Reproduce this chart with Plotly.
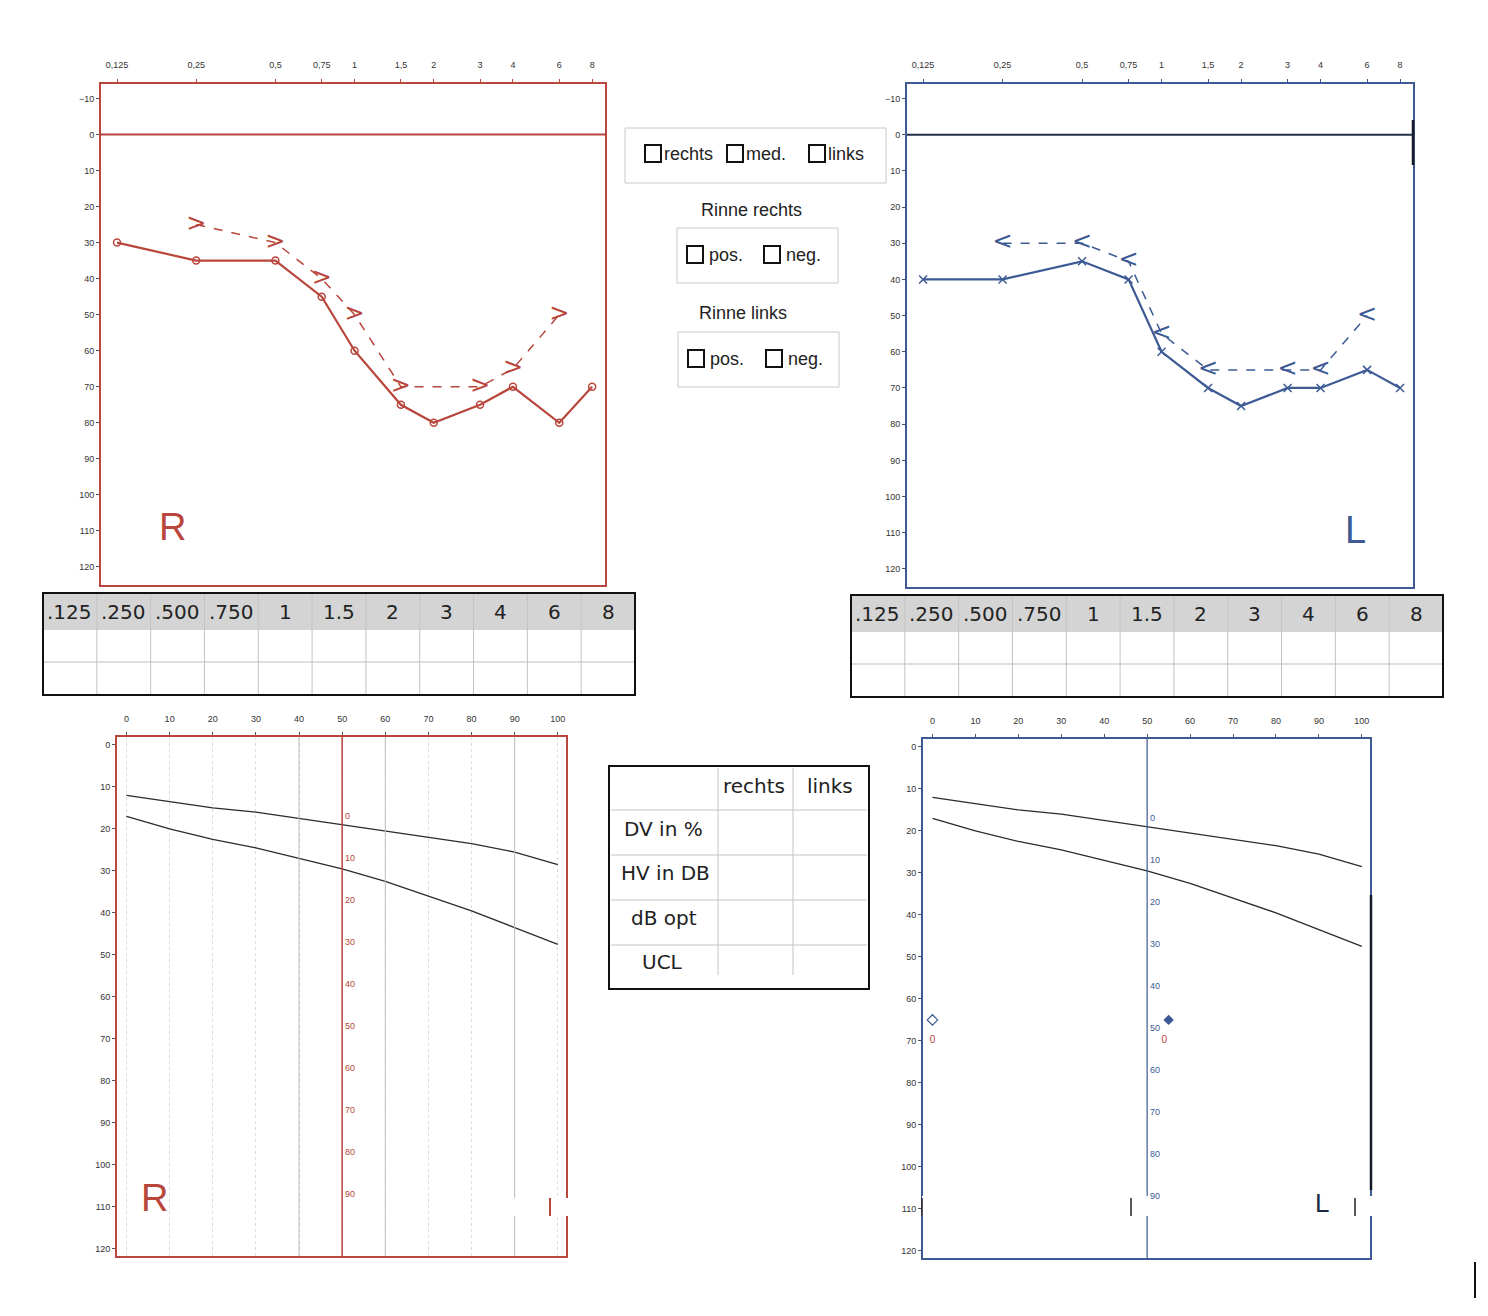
import plotly.graph_objects as go

W, H = 1488, 1316
OFF = 8  # body margin of the page
RED = '#b8463c'
BLUE = '#3d5a94'
GREY_TXT = '#333333'

# --- Tonaudiogramm data (kHz / dB HL) ---
freqs = [0.125, 0.25, 0.5, 0.75, 1, 1.5, 2, 3, 4, 6, 8]
freq_ticktext = ['0,125', '0,25', '0,5', '0,75', '1', '1,5', '2', '3', '4', '6', '8']
db_ticks = [-10, 0, 10, 20, 30, 40, 50, 60, 70, 80, 90, 100, 110, 120]

r_air = [30, 35, 35, 45, 60, 75, 80, 75, 70, 80, 70]
r_bone_f = [0.25, 0.5, 0.75, 1, 1.5, 3, 4, 6]
r_bone = [25, 30, 40, 50, 70, 70, 65, 50]

l_air = [40, 40, 35, 40, 60, 70, 75, 70, 70, 65, 70]
l_bone_f = [0.25, 0.5, 0.75, 1, 1.5, 3, 4, 6]
l_bone = [30, 30, 35, 55, 65, 65, 65, 50]

table_freqs = ['.125', '.250', '.500', '.750', '1', '1.5', '2', '3', '4', '6', '8']

# --- Sprachaudiogramm data (% / dB) ---
pct = [0, 10, 20, 30, 40, 50, 60, 70, 80, 90, 100]
speech_ticks = [0, 10, 20, 30, 40, 50, 60, 70, 80, 90, 100, 110, 120]
norm_upper = [12, 13.5, 15, 16, 17.5, 19, 20.5, 22, 23.5, 25.5, 28.5]
norm_lower = [17, 20, 22.5, 24.5, 27, 29.5, 32.5, 36, 39.5, 43.5, 47.5]
sec_labels = ['0', '10', '20', '30', '40', '50', '60', '70', '80', '90']
sec_y = [17, 27, 37, 47, 57, 67, 77, 87, 97, 107]

l_speech_open = (0, 65)
l_speech_filled = (55, 65)
l_speech_zero = [(0, 70), (54, 70)]

check_row1 = ['rechts', 'med.', 'links']
check_row2 = ['pos.', 'neg.']
speech_rows = ['DV in %', 'HV in DB', 'dB opt', 'UCL']
speech_cols = ['rechts', 'links']


def px(x):
    return (x - OFF) / W


def py(y):
    return 1 - (y - OFF) / H


def note(x, y, text, font, xanchor='center', **kw):
    return dict(xref='paper', yref='paper', x=px(x), y=py(y), text=text, showarrow=False,
                xanchor=xanchor, yanchor='middle', font=font, **kw)


fig = go.Figure()

# tone audiogram traces
fig.add_trace(go.Scatter(x=freqs, y=r_air, mode='lines+markers', xaxis='x', yaxis='y',
                         line=dict(color=RED, width=2.2),
                         marker=dict(symbol='circle-open', size=7, color=RED, line=dict(width=1.5))))
fig.add_trace(go.Scatter(x=r_bone_f, y=r_bone, mode='lines+text', xaxis='x', yaxis='y',
                         text=['>'] * len(r_bone), textposition='middle center',
                         textfont=dict(size=24, color=RED, family='DejaVu Sans'),
                         line=dict(color=RED, width=1.5, dash='dash')))
fig.add_trace(go.Scatter(x=freqs, y=l_air, mode='lines+markers', xaxis='x2', yaxis='y2',
                         line=dict(color=BLUE, width=2.2),
                         marker=dict(symbol='x-thin-open', size=8, color=BLUE, line=dict(width=1.5, color=BLUE))))
fig.add_trace(go.Scatter(x=l_bone_f, y=l_bone, mode='lines+text', xaxis='x2', yaxis='y2',
                         text=['<'] * len(l_bone), textposition='middle center',
                         textfont=dict(size=24, color=BLUE, family='DejaVu Sans'),
                         line=dict(color=BLUE, width=1.5, dash='dash')))

# speech audiogram traces
for xa, ya in [('x3', 'y3'), ('x4', 'y4')]:
    fig.add_trace(go.Scatter(x=pct, y=norm_upper, mode='lines', xaxis=xa, yaxis=ya,
                             line=dict(color='#2b2b2b', width=1.3)))
    fig.add_trace(go.Scatter(x=pct, y=norm_lower, mode='lines', xaxis=xa, yaxis=ya,
                             line=dict(color='#2b2b2b', width=1.3)))
fig.add_trace(go.Scatter(x=[l_speech_open[0]], y=[l_speech_open[1]], mode='markers', xaxis='x4', yaxis='y4',
                         marker=dict(symbol='diamond-open', size=8, color=BLUE, line=dict(width=1.2))))
fig.add_trace(go.Scatter(x=[l_speech_filled[0]], y=[l_speech_filled[1]], mode='markers', xaxis='x4', yaxis='y4',
                         marker=dict(symbol='diamond', size=8, color=BLUE)))
fig.add_trace(go.Scatter(x=[p[0] for p in l_speech_zero], y=[p[1] for p in l_speech_zero], mode='text',
                         xaxis='x4', yaxis='y4', text=['0', '0'],
                         textfont=dict(size=10, color=RED, family='Liberation Sans Narrow, Liberation Sans')))

tick_font = dict(size=9, color=GREY_TXT, family='Liberation Sans Narrow, Liberation Sans')


def tone_axes(color, dom_x, dom_y, anchor_x, anchor_y):
    xa = dict(type='log', domain=dom_x, anchor=anchor_y, side='top', range=[-0.964, 0.952],
              tickvals=freqs, ticktext=freq_ticktext, tickfont=tick_font, ticks='outside', ticklen=3,
              tickcolor=color, ticklabelstandoff=7, showgrid=False, zeroline=False, showline=True,
              linecolor=color, linewidth=2, mirror=True)
    ya = dict(domain=dom_y, anchor=anchor_x, range=[125, -14], tickvals=db_ticks, tickfont=tick_font,
              ticks='outside', ticklen=3, tickcolor='#555', showgrid=False, zeroline=False,
              showline=True, linecolor=color, linewidth=2, mirror=True)
    return xa, ya


def speech_axes(color, dom_x, dom_y, anchor_x, anchor_y, grid):
    xa = dict(domain=dom_x, anchor=anchor_y, side='top', range=[-2.2, 101.9], tickvals=pct,
              tickfont=tick_font, ticks='outside', ticklen=3, tickcolor='#555', ticklabelstandoff=6,
              showgrid=grid, gridcolor='#dcdcdc', griddash='dot', gridwidth=1,
              zeroline=False, showline=True, linecolor=color, linewidth=2, mirror=True)
    ya = dict(domain=dom_y, anchor=anchor_x, range=[121.7, -1.9], tickvals=speech_ticks,
              tickfont=tick_font, ticks='outside', ticklen=3, tickcolor='#555', showgrid=False,
              zeroline=False, showline=True, linecolor=color, linewidth=2, mirror=True)
    return xa, ya


x1, y1 = tone_axes(RED, [px(101), px(605)], [py(585), py(84)], 'x', 'y')
x2, y2 = tone_axes(BLUE, [px(907), px(1413)], [py(587), py(84)], 'x2', 'y2')
x3, y3 = speech_axes(RED, [px(117), px(566)], [py(1256), py(737)], 'x3', 'y3', True)
x4, y4 = speech_axes(BLUE, [px(923), px(1370)], [py(1258), py(739)], 'x4', 'y4', False)

shapes = []
annotations = []

# zero lines in tone audiograms
shapes.append(dict(type='line', xref='x domain', yref='y', x0=0, x1=1, y0=0, y1=0,
                   line=dict(color=RED, width=2)))
shapes.append(dict(type='line', xref='x2 domain', yref='y2', x0=0, x1=1, y0=0, y1=0,
                   line=dict(color='#23304a', width=2)))

# speech audiogram vertical lines
for v in [40, 60, 90]:
    shapes.append(dict(type='line', xref='x3', yref='y3 domain', x0=v, x1=v, y0=0, y1=1,
                       line=dict(color='#bdbdbd', width=1)))
shapes.append(dict(type='line', xref='x3', yref='y3 domain', x0=50, x1=50, y0=0, y1=1,
                   line=dict(color=RED, width=1.5)))
shapes.append(dict(type='line', xref='x4', yref='y4 domain', x0=50, x1=50, y0=0, y1=1,
                   line=dict(color=BLUE, width=1.2)))

for xa, ya, col in [('x3', 'y3', RED), ('x4', 'y4', BLUE)]:
    for lab, yy in zip(sec_labels, sec_y):
        annotations.append(dict(xref=xa, yref=ya, x=50, y=yy, text=lab, showarrow=False,
                                xanchor='left', yanchor='middle', xshift=1,
                                font=dict(size=9, color=col,
                                          family='Liberation Sans Narrow, Liberation Sans')))

# side letters
annotations.append(note(172, 527, 'R', dict(size=38, color=RED, family='Liberation Sans')))
annotations.append(note(1355, 530, 'L', dict(size=38, color=BLUE, family='Liberation Sans')))
annotations.append(note(154, 1198, 'R', dict(size=38, color=RED, family='Liberation Sans')))

# scan marks: white strips over the lower plots, dark border segments
shapes.append(dict(type='rect', xref='paper', yref='paper', x0=px(476), x1=px(570), y0=py(1216), y1=py(1198),
                   fillcolor='white', line=dict(width=0), layer='above'))
shapes.append(dict(type='line', xref='paper', yref='paper', x0=px(550), x1=px(550), y0=py(1216), y1=py(1198),
                   line=dict(color=RED, width=2), layer='above'))
shapes.append(dict(type='rect', xref='paper', yref='paper', x0=px(922), x1=px(1372), y0=py(1216), y1=py(1196),
                   fillcolor='white', line=dict(width=0), layer='above'))
for xv in [922, 1131, 1355]:
    shapes.append(dict(type='line', xref='paper', yref='paper', x0=px(xv), x1=px(xv), y0=py(1216), y1=py(1198),
                       line=dict(color='#222', width=1.5), layer='above'))
annotations.append(note(1322, 1203, 'L', dict(size=26, color='#1f2a44', family='Liberation Sans')))
shapes.append(dict(type='line', xref='paper', yref='paper', x0=px(1475), x1=px(1475), y0=py(1298), y1=py(1262),
                   line=dict(color='#111', width=2)))
shapes.append(dict(type='line', xref='paper', yref='paper', x0=px(1371), x1=px(1371), y0=py(1190), y1=py(895),
                   line=dict(color='#151a26', width=2.5), layer='above'))
shapes.append(dict(type='line', xref='paper', yref='paper', x0=px(1413), x1=px(1413), y0=py(165), y1=py(120),
                   line=dict(color='#151a26', width=2.5), layer='above'))

# frequency tables under the tone audiograms
for left, top in [(43, 593), (851, 595)]:
    right, bottom = left + 592, top + 102
    cw = 592 / len(table_freqs)
    shapes.append(dict(type='rect', xref='paper', yref='paper', x0=px(left), x1=px(right),
                       y0=py(top + 37), y1=py(top), fillcolor='#d4d4d4', line=dict(width=0), layer='below'))
    for i in range(1, len(table_freqs)):
        xv = left + i * cw
        shapes.append(dict(type='line', xref='paper', yref='paper', x0=px(xv), x1=px(xv),
                           y0=py(bottom), y1=py(top), line=dict(color='#c4c4c4', width=1)))
    shapes.append(dict(type='line', xref='paper', yref='paper', x0=px(left), x1=px(right),
                       y0=py(top + 69), y1=py(top + 69), line=dict(color='#bfbfbf', width=1)))
    shapes.append(dict(type='rect', xref='paper', yref='paper', x0=px(left), x1=px(right),
                       y0=py(bottom), y1=py(top), line=dict(color='#111', width=2)))
    for i, lab in enumerate(table_freqs):
        annotations.append(note(left + (i + 0.5) * cw, top + 19, lab,
                                dict(size=20, color='#222', family='DejaVu Sans')))

# checkbox panels in the middle
box_font = dict(size=18, color='#222', family='Liberation Sans')


def checkbox(x, y):
    shapes.append(dict(type='rect', xref='paper', yref='paper', x0=px(x), x1=px(x + 16),
                       y0=py(y + 17), y1=py(y), line=dict(color='#111', width=2)))


shapes.append(dict(type='rect', xref='paper', yref='paper', x0=px(625), x1=px(886), y0=py(183), y1=py(128),
                   line=dict(color='#c8c8c8', width=1)))
for lab, bx in zip(check_row1, [645, 727, 809]):
    checkbox(bx, 145)
    annotations.append(note(bx + 17, 154, lab, box_font, xanchor='left'))

annotations.append(note(751, 210, 'Rinne rechts', box_font))
annotations.append(note(743, 313, 'Rinne links', box_font))
for bl, bt, xs in [(677, 228, [687, 764]), (678, 332, [688, 766])]:
    shapes.append(dict(type='rect', xref='paper', yref='paper', x0=px(bl), x1=px(bl + 161),
                       y0=py(bt + 55), y1=py(bt), line=dict(color='#c8c8c8', width=1)))
    for lab, bx in zip(check_row2, xs):
        checkbox(bx, bt + 18)
        annotations.append(note(bx + 20, bt + 27, lab, box_font, xanchor='left'))

# speech result table
shapes.append(dict(type='rect', xref='paper', yref='paper', x0=px(609), x1=px(869), y0=py(989), y1=py(766),
                   line=dict(color='#111', width=2)))
for xv in [718, 793]:
    shapes.append(dict(type='line', xref='paper', yref='paper', x0=px(xv), x1=px(xv), y0=py(975), y1=py(768),
                       line=dict(color='#c4c4c4', width=1)))
for yv in [810, 855, 900, 945]:
    shapes.append(dict(type='line', xref='paper', yref='paper', x0=px(611), x1=px(867), y0=py(yv), y1=py(yv),
                       line=dict(color='#c4c4c4', width=1)))
tab_font = dict(size=20, color='#222', family='DejaVu Sans')
for lab, cx in zip(speech_cols, [754, 830]):
    annotations.append(note(cx, 786, lab, tab_font))
for lab, cy, cx in zip(speech_rows, [829, 873, 918, 962], [663, 665, 664, 662]):
    annotations.append(note(cx, cy, lab, tab_font))

fig.update_layout(
    width=W, height=H,
    margin=dict(l=0, r=0, t=0, b=0),
    paper_bgcolor='white', plot_bgcolor='white',
    showlegend=False,
    font=dict(family='Liberation Sans'),
    xaxis=x1, yaxis=y1, xaxis2=x2, yaxis2=y2,
    xaxis3=x3, yaxis3=y3, xaxis4=x4, yaxis4=y4,
    shapes=shapes, annotations=annotations,
)

fig.write_html('out.html')
